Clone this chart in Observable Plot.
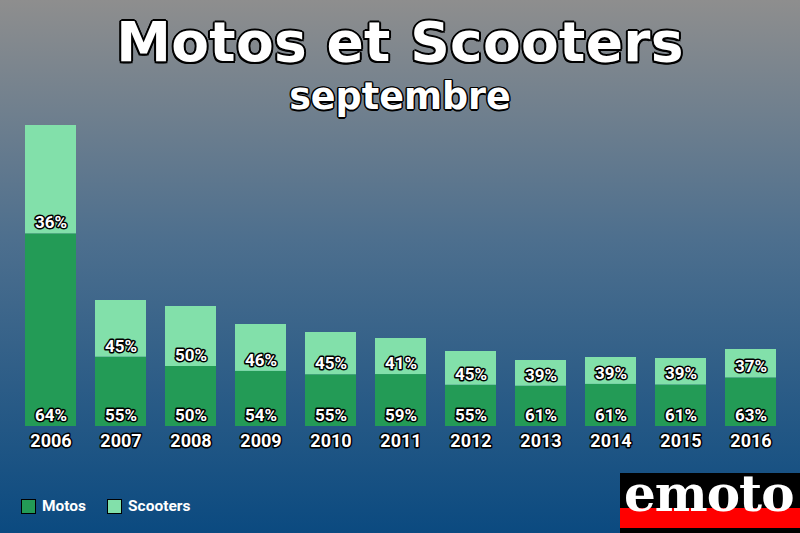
<!DOCTYPE html>
<html>
<head>
<meta charset="utf-8">
<script src="https://cdn.jsdelivr.net/npm/d3@7"></script>
<script src="https://cdn.jsdelivr.net/npm/@observablehq/plot@0.6"></script>
<style>
  html, body { margin: 0; padding: 0; }
  body {
    width: 800px; height: 533px; overflow: hidden; position: relative;
    background: linear-gradient(to bottom, #8e8e8e 0%, #4d6f8e 45%, #0b4a80 100%);
    font-family: Roboto, sans-serif;
  }
  #title {
    position: absolute; left: 0; top: 6px; width: 800px; text-align: center;
    font-family: "DejaVu Sans", sans-serif; font-weight: bold;
    font-size: 55px; line-height: 72px; color: white; letter-spacing: 0.3px;
    text-shadow: -1.5px -1.5px 0 #000, 1.5px -1.5px 0 #000, -1.5px 1.5px 0 #000, 1.5px 1.5px 0 #000, 0 2px 0 #000, 0 -2px 0 #000, 2px 0 0 #000, -2px 0 0 #000;
  }
  #subtitle {
    position: absolute; left: 0; top: 77px; width: 800px; text-align: center;
    font-family: "DejaVu Sans", sans-serif; font-weight: bold;
    font-size: 36.5px; line-height: 40px; color: white;
    text-shadow: -1px -1px 0 #000, 1px -1px 0 #000, -1px 1px 0 #000, 1px 1px 0 #000, 0 1.5px 0 #000, 0 -1.5px 0 #000, 1.5px 0 0 #000, -1.5px 0 0 #000;
  }
  #chart { position: absolute; left: 0; top: 110px; }
  #legend { position: absolute; left: 21px; top: 497px; display: flex; align-items: center; font-family: Roboto, sans-serif; font-weight: bold; font-size: 15.5px; color: white; }
  .sw { width: 15px; height: 15px; border: 1px solid #000; box-sizing: border-box; margin-right: 6px; }
  .item { display: flex; align-items: center; margin-right: 21px; }
  #logo { position: absolute; left: 620px; top: 473px; width: 180px; height: 60px; background: #000; }
  #logo .red { position: absolute; left: 0; top: 35px; width: 180px; height: 20px; background: #ff0000; }
  #logotxt { position: absolute; left: 624px; top: 471px; font-family: "DejaVu Serif", serif; font-weight: bold; font-size: 50px; line-height: 46px; color: white; letter-spacing: -1px; }
</style>
</head>
<body>
<div id="title">Motos et Scooters</div>
<div id="subtitle">septembre</div>
<div id="chart"></div>
<div id="legend"></div>
<div id="logo"><div class="red"></div></div>
<div id="logotxt">emoto</div>
<script>
// Data (totals in relative units)
const years = ["2006","2007","2008","2009","2010","2011","2012","2013","2014","2015","2016"];
const totals = [30100, 12600, 12000, 10200, 9400, 8800, 7500, 6600, 6900, 6800, 7700];
const motosPct = [64, 55, 50, 54, 55, 59, 55, 61, 61, 61, 63];
const scootersPct = [36, 45, 50, 46, 45, 41, 45, 39, 39, 39, 37];
const seriesNames = ["Motos", "Scooters"];
const seriesColors = ["#239b56", "#82e0aa"];

const rows = [];
years.forEach((y, i) => {
  rows.push({year: y, serie: "Motos", value: totals[i] * motosPct[i] / 100, pct: motosPct[i]});
  rows.push({year: y, serie: "Scooters", value: totals[i] * scootersPct[i] / 100, pct: scootersPct[i]});
});
const motosRows = rows.filter(d => d.serie === "Motos");
const scooterRows = rows.filter(d => d.serie === "Scooters");

const chart = Plot.plot({
  width: 800,
  height: 350,
  marginLeft: 6,
  marginRight: 5,
  marginTop: 15,
  marginBottom: 34,
  style: {background: "transparent", fontFamily: "Roboto, sans-serif", fontWeight: "bold", overflow: "visible"},
  x: {domain: years, padding: 0.27, axis: null, label: null},
  y: {domain: [0, 30100], axis: null},
  color: {domain: seriesNames, range: seriesColors},
  marks: [
    Plot.barY(rows, {x: "year", y: "value", fill: "serie", order: seriesNames}),
    Plot.text(motosRows, {x: "year", y: 0, text: d => d.pct + "%", dy: -11, fill: "white", stroke: "black", strokeWidth: 3, fontSize: 17, fontWeight: "bold"}),
    Plot.text(scooterRows, {x: "year", y: (d, i) => motosRows[i].value, text: d => d.pct + "%", dy: -11, fill: "white", stroke: "black", strokeWidth: 3, fontSize: 17, fontWeight: "bold"}),
    Plot.axisX({tickSize: 0, tickPadding: 8, label: null, fontSize: 18, fontWeight: "bold", fill: "white", textStroke: "black", textStrokeWidth: 3})
  ]
});
document.getElementById("chart").appendChild(chart);

const legend = document.getElementById("legend");
seriesNames.forEach((n, i) => {
  const it = document.createElement("div");
  it.className = "item";
  it.innerHTML = `<div class="sw" style="background:${seriesColors[i]}"></div><span>${n}</span>`;
  legend.appendChild(it);
});
</script>
</body>
</html>
